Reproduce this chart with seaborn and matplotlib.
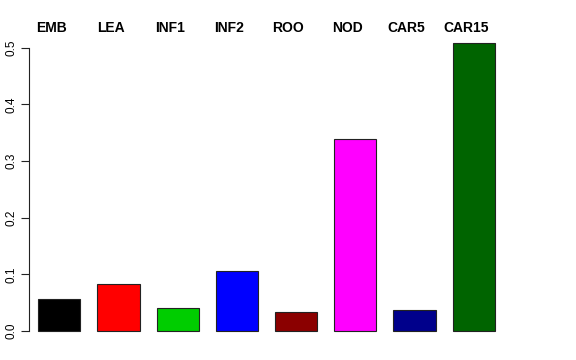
import matplotlib
matplotlib.use("Agg")
import matplotlib.pyplot as plt
import seaborn as sns
import pandas as pd

categories = ["EMB", "LEA", "INF1", "INF2", "ROO", "NOD", "CAR5", "CAR15"]
values = [0.056, 0.0824, 0.0406, 0.1054, 0.033, 0.339, 0.0365, 0.508]
colors = ["#000000", "#FF0000", "#00CD00", "#0000FF", "#8B0000", "#FF00FF", "#00008B", "#006400"]
yticks = [0.0, 0.1, 0.2, 0.3, 0.4, 0.5]
ytick_labels = ["0.0", "0.1", "0.2", "0.3", "0.4", "0.5"]

sns.set_style("white")
plt.rcParams["font.family"] = ["Liberation Sans", "DejaVu Sans"]

df = pd.DataFrame({"tissue": categories, "value": values})

W, H = 576, 360
fig = plt.figure(figsize=(W / 100, H / 100), dpi=100)
left_px, right_px, top_px, bottom_px = 29, 560, 30, 345
ax = fig.add_axes([left_px / W, 1 - bottom_px / H, (right_px - left_px) / W, (bottom_px - top_px) / H])

sns.barplot(data=df, x="tissue", y="value", hue="tissue", palette=colors,
            order=categories, hue_order=categories, legend=False,
            edgecolor="#222222", linewidth=0.8, width=0.71, saturation=1, ax=ax)

ax.set_xlim(-0.512, 8.458)
ax.set_ylim(-0.0247, 0.531)
ax.set_xlabel("")
ax.set_ylabel("")
ax.set_xticks([])
ax.set_yticks(yticks)
ax.set_yticklabels(ytick_labels, rotation=90, va="center", fontsize=8.5, color="black")
ax.tick_params(axis="y", length=6, width=0.8, pad=2, left=True, color="#222222")
for s in ["top", "right", "bottom"]:
    ax.spines[s].set_visible(False)
ax.spines["left"].set_bounds(0, 0.5)
ax.spines["left"].set_linewidth(0.8)
ax.spines["left"].set_color("#222222")

label_y = 0.531 + (30 - 28.5) / 566.6
for i, name in enumerate(categories):
    ax.text(i - 0.135, label_y, name, ha="center", va="center", fontsize=10,
            fontweight="bold", color="black", clip_on=False)

fig.savefig("out.png", dpi=100)
